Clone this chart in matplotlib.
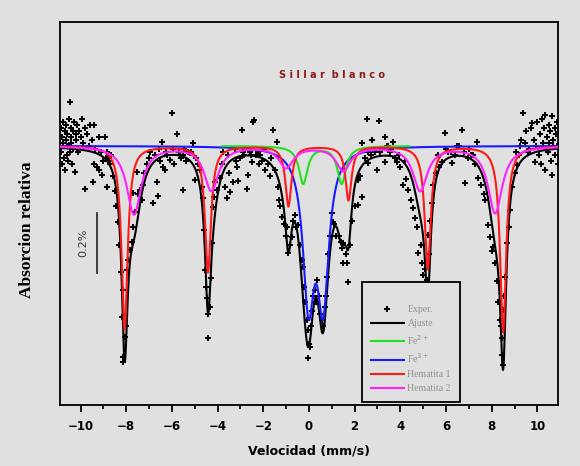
import numpy as np
import matplotlib
matplotlib.use('Agg')
import matplotlib.pyplot as plt
from matplotlib.lines import Line2D
from matplotlib.ticker import MultipleLocator

# Espectro Mossbauer - Sillar blanco
# lineas (posicion mm/s, profundidad %) y semiancho de cada componente
hem1_pos = [-8.07, -4.42, -0.90, 1.73, 5.20, 8.50]
hem1_prof = [0.61, 0.42, 0.20, 0.18, 0.41, 0.62]
hem1_gam = 0.16

hem2_pos = [-7.66, -4.27, -1.00, 1.50, 4.87, 8.15]
hem2_prof = [0.227, 0.147, 0.07, 0.08, 0.147, 0.223]
hem2_gam = 0.38

fe2_pos = [-0.25, 1.43]
fe2_prof = [0.125, 0.125]
fe2_gam = 0.23
fe2_rango = (-3.8, 4.4)

fe3_pos = [-0.02, 0.62]
fe3_prof = [0.49, 0.49]
fe3_gam = 0.30

exp_v = [
    -10.85, -10.85, -10.82, -10.80, -10.78, -10.75, -10.72, -10.70, -10.68, -10.65,
    -10.62, -10.60, -10.58, -10.55, -10.52, -10.50, -10.48, -10.45, -10.42, -10.40,
    -10.38, -10.35, -10.32, -10.30, -10.26, -10.22, -10.20, -10.15, -10.10, -10.05,
    -10.00, -9.95, -9.90, -9.82, -9.80, -9.70, -9.60, -9.50, -9.47, -9.40, -9.39,
    -9.30, -9.20, -9.20, -9.08, -9.00, -8.95, -8.90, -8.82, -8.80, -8.75, -8.70,
    -8.65, -8.60, -8.50, -8.45,
    -8.38, -8.30, -8.25, -8.20, -8.16, -8.16, -8.12, -8.07, -8.03, -7.98, -7.92,
    -7.85, -7.76, -7.72, -7.70, -7.60, -7.54, -7.50, -7.41, -7.32, -7.28, -7.20,
    -7.10, -7.00,
    -6.84, -6.67, -6.62, -6.50, -6.45, -6.40, -6.32, -6.20, -6.10, -6.00, -5.90,
    -5.79, -5.70, -5.60, -5.53, -5.53, -5.40, -5.30, -5.22, -5.09, -5.00, -4.95,
    -4.85, -4.78, -4.70, -4.65, -4.60, -4.56, -4.50, -4.47, -4.43, -4.40, -4.34,
    -4.30, -4.25, -4.21, -4.15, -4.10, -4.04, -3.90, -3.80, -3.68, -3.60, -3.50,
    -3.46, -3.33, -3.20, -3.16, -3.11, -3.00, -2.94, -2.85, -2.72,
    -2.68, -2.60, -2.50, -2.46, -2.40, -2.30, -2.20, -2.15, -2.05, -1.93, -1.80,
    -1.70, -1.58, -1.50, -1.40, -1.36, -1.30, -1.25, -1.18, -1.10, -1.00, -0.96,
    -0.92, -0.85, -0.75, -0.70, -0.61, -0.55, -0.48, -0.40, -0.30, -0.26, -0.22,
    -0.18, -0.10, -0.04, -0.04, 0.00, 0.04, 0.08, 0.12, 0.18, 0.26, 0.30, 0.35,
    0.45, 0.50, 0.57, 0.62, 0.70, 0.75, 0.79, 0.85, 0.90, 1.00, 1.05, 1.10, 1.20,
    1.30, 1.40, 1.45, 1.49,
    1.49, 1.60, 1.67, 1.71, 1.80, 1.90, 2.00, 2.15, 2.15, 2.25, 2.32, 2.32, 2.45,
    2.54, 2.59, 2.70, 2.76, 2.90, 2.98, 3.07, 3.20, 3.33, 3.33, 3.45, 3.55, 3.68,
    3.75, 3.86, 4.00, 4.12, 4.25, 4.34, 4.45, 4.56, 4.65, 4.74, 4.78, 4.90, 4.96,
    5.00, 5.10, 5.18, 5.22, 5.25, 5.30, 5.39, 5.45, 5.55,
    5.70, 5.83, 5.96, 6.10, 6.27, 6.40, 6.55, 6.71, 6.84, 6.95, 7.10, 7.25, 7.37,
    7.41, 7.55, 7.65, 7.72, 7.85, 7.94, 8.00, 8.07, 8.16, 8.22, 8.29, 8.35, 8.40,
    8.46, 8.46, 8.50, 8.51, 8.55, 8.60, 8.68, 8.75, 8.82, 8.90, 9.00, 9.12, 9.20,
    9.30, 9.39, 9.50, 9.60, 9.70, 9.78, 9.85, 9.91, 10.00, 10.05, 10.10, 10.15,
    10.20, 10.25, 10.30, 10.35, 10.35, 10.40, 10.45, 10.50, 10.55, 10.60, 10.62,
    10.66, 10.70, 10.75, 10.78, 10.80, 10.85, 10.85, 10.88,
    # puntos densos cerca de la linea base
    -6.95, -6.75, -6.55, -6.25, -5.95, -5.65, -5.45, -5.15, -3.75, -3.55, -3.25,
    -2.90, -2.55, -2.25, -1.95, -1.65, 2.60, 2.85, 3.10, 3.40, 3.60, 3.95, 4.20,
    5.65, 6.00, 6.20, 6.50, 6.80, 7.00, 7.20, 9.05, 9.25, 9.45, 9.65, 9.95, -9.65,
    -9.35, -9.10, -8.85, -10.60, -10.40, -10.15, 10.50, 10.70,
]
exp_a = [
    0.06, -0.02, 0.03, -0.06, 0.08, 0.01, -0.04, 0.05, -0.08, 0.02,
    0.07, -0.03, 0.04, -0.05, 0.09, 0.00, 0.147, -0.02, 0.06, 0.03,
    -0.06, 0.05, -0.01, 0.08, -0.087, 0.04, 0.02, 0.07, -0.02, 0.05,
    0.03, 0.09, 0.01, -0.143, 0.06, 0.04, 0.07, 0.02, -0.12, -0.06, 0.07,
    -0.07, 0.03, -0.08, -0.097, -0.05, 0.03, -0.04, -0.137, -0.04, -0.05, -0.06,
    -0.03, -0.10, -0.15, -0.20,
    -0.253, -0.33, -0.42, -0.57, -0.48, -0.703, -0.72, -0.637, -0.60, -0.413, -0.38,
    -0.347, -0.32, -0.157, -0.27, -0.22, -0.087, -0.16, -0.147, -0.18, -0.13, -0.09,
    -0.06, -0.04,
    -0.19, -0.12, -0.167, -0.05, 0.013, -0.07, -0.08, -0.03, -0.047, 0.11, -0.06,
    0.04, -0.02, -0.04, -0.147, -0.03, -0.05, -0.02, -0.023, 0.01, -0.113, -0.04,
    -0.06, -0.08, -0.137, -0.173, -0.28, -0.413, -0.47, -0.507, -0.64, -0.56, -0.537,
    -0.44, -0.323, -0.203, -0.17, -0.12, -0.147, -0.107, -0.06, -0.137, -0.173, -0.09,
    -0.153, -0.12, -0.05, -0.07, -0.117, -0.04, 0.053, -0.03, -0.143,
    -0.097, -0.02, -0.053, 0.08, 0.085, -0.03, -0.06, -0.03, -0.05, -0.08, -0.06,
    -0.10, 0.053, -0.08, 0.013, -0.137, -0.18, -0.20, -0.237, -0.26, -0.30, -0.27,
    -0.357, -0.33, -0.303, -0.25, -0.23, -0.27, -0.263, -0.33, -0.38, -0.403, -0.47,
    -0.52, -0.58, -0.613, -0.707, -0.66, -0.67, -0.60, -0.55, -0.50, -0.48, -0.52, -0.447,
    -0.50, -0.56, -0.58, -0.60, -0.537, -0.50, -0.437, -0.36, -0.30, -0.223, -0.253, -0.26, -0.30,
    -0.30, -0.32, -0.34, -0.39,
    -0.323, -0.36, -0.39, -0.453, -0.33, -0.25, -0.20, -0.197, -0.113, -0.10, -0.17, 0.01, -0.04,
    0.09, -0.057, -0.03, 0.02, -0.02, -0.08, 0.083, -0.01, 0.03, -0.053, 0.00, -0.02, 0.013,
    -0.04, -0.053, -0.07, -0.13, -0.11, -0.147, -0.18, -0.207, -0.24, -0.27, -0.357, -0.33, -0.39,
    -0.43, -0.41, -0.447, -0.297, -0.36, -0.25, -0.19, -0.13, -0.09,
    -0.07, -0.053, 0.043, -0.02, -0.057, -0.03, 0.00, 0.053, -0.123, -0.04, -0.03, -0.06, 0.013,
    -0.107, -0.13, -0.16, -0.18, -0.263, -0.303, -0.35, -0.337, -0.39, -0.45, -0.52, -0.58, -0.60,
    -0.64, -0.697, -0.73, -0.547, -0.50, -0.437, -0.323, -0.27, -0.213, -0.137, -0.09, -0.063, -0.03,
    0.02, 0.11, 0.05, -0.02, 0.06, 0.077, 0.02, -0.053, 0.08, -0.03, 0.04, -0.06,
    0.09, 0.01, 0.06, 0.103, -0.08, 0.03, -0.02, 0.07, 0.05, -0.05, 0.10,
    -0.097, 0.02, 0.06, -0.03, 0.04, 0.00, 0.08, -0.06,
    -0.02, -0.03, -0.01, -0.02, -0.01, -0.03, -0.01, -0.02, -0.02, -0.03, -0.01,
    -0.02, -0.03, -0.02, -0.01, -0.04, -0.02, -0.01, -0.02, 0.00, -0.01, -0.03, -0.05,
    -0.03, -0.01, -0.02, 0.00, -0.02, -0.01, -0.03, -0.02, 0.00, 0.01, -0.01, 0.00, 0.00,
    -0.01, -0.02, -0.02, 0.00, 0.01, -0.01, 0.01, 0.00,
]


def componente(v, pos, prof, gam):
    y = np.zeros_like(v)
    for p, d in zip(pos, prof):
        y -= d * gam**2 / ((v - p)**2 + gam**2)
    return y


v = np.linspace(-10.9, 10.9, 2000)
c_h1 = componente(v, hem1_pos, hem1_prof, hem1_gam)
c_h2 = componente(v, hem2_pos, hem2_prof, hem2_gam)
c_fe2 = componente(v, fe2_pos, fe2_prof, fe2_gam)
c_fe3 = componente(v, fe3_pos, fe3_prof, fe3_gam)
ajuste = c_h1 + c_h2 + c_fe2 + c_fe3

fondo = '#e0e0e0'
fig = plt.figure(figsize=(5.8, 4.66), dpi=100, facecolor=fondo)
ax = fig.add_axes([0.1034, 0.131, 0.8586, 0.822])
ax.set_facecolor(fondo)

ax.plot(exp_v, exp_a, '+', color='black', ms=5, mew=1.4, zorder=2)
ax.plot(v, ajuste, color='black', lw=1.5, zorder=3)
ax.plot(v, c_fe3, color='#1a1aff', lw=1.5, zorder=4)
m = (v >= fe2_rango[0]) & (v <= fe2_rango[1])
ax.plot(v[m], c_fe2[m], color='#22e022', lw=1.5, zorder=5)
ax.plot(v, c_h1, color='#ff1a1a', lw=1.5, zorder=6)
ax.plot(v, c_h2, color='#ff22ff', lw=1.5, zorder=7)

ax.set_xlim(-10.9, 10.9)
ax.set_ylim(-0.863, 0.413)
ax.xaxis.set_major_locator(MultipleLocator(2))
ax.xaxis.set_minor_locator(MultipleLocator(1))
ax.tick_params(axis='x', which='major', direction='out', length=5, width=1.3,
               labelsize=8.5, pad=6)
ax.tick_params(axis='x', which='minor', direction='out', length=3, width=1.2)
ax.tick_params(axis='y', left=False, labelleft=False)
for lab in ax.get_xticklabels():
    lab.set_fontweight('bold')
for s in ax.spines.values():
    s.set_linewidth(1.3)

ax.set_xlabel('Velocidad (mm/s)', fontsize=9, fontweight='bold', labelpad=8)
ax.set_ylabel('Absorcion relativa', fontsize=12.5, fontweight='bold',
              family='Liberation Serif')
ax.yaxis.set_label_coords(-0.051, 0.457)

# barra de escala
ax.plot([-9.3, -9.3], [-0.223, -0.423], color='#333333', lw=1.3)
ax.text(-9.87, -0.323, '0.2%', rotation=90, ha='center', va='center',
        fontsize=8, color='#333333')

ax.text(1.0, 0.237, 'S i l l a r  b l a n c o', ha='center', va='center',
        fontsize=7, fontweight='bold', color='#8b1a1a')

handles = [
    Line2D([], [], marker='+', ls='none', color='black', ms=5, mew=1.4),
    Line2D([], [], color='black', lw=1.5),
    Line2D([], [], color='#22e022', lw=1.5),
    Line2D([], [], color='#1a1aff', lw=1.5),
    Line2D([], [], color='#ff1a1a', lw=1.5),
    Line2D([], [], color='#ff22ff', lw=1.5),
]
labels = ['Exper.', 'Ajuste', 'Fe$^{2+}$', 'Fe$^{3+}$', 'Hematita 1', 'Hematita 2']
leg = ax.legend(handles, labels, loc='lower left', bbox_to_anchor=(0.606, 0.008),
                fontsize=6.5, frameon=True, fancybox=False, edgecolor='black',
                facecolor=fondo, framealpha=1, handlelength=3.4, labelspacing=0.5,
                borderpad=0.9, handletextpad=0.4, borderaxespad=0,
                title=' ', title_fontsize=7,
                prop={'family': 'Liberation Serif', 'size': 7})
leg.get_frame().set_linewidth(1.3)
for t in leg.get_texts():
    t.set_color('#909090')

fig.savefig('out.png', dpi=100, facecolor=fondo)
